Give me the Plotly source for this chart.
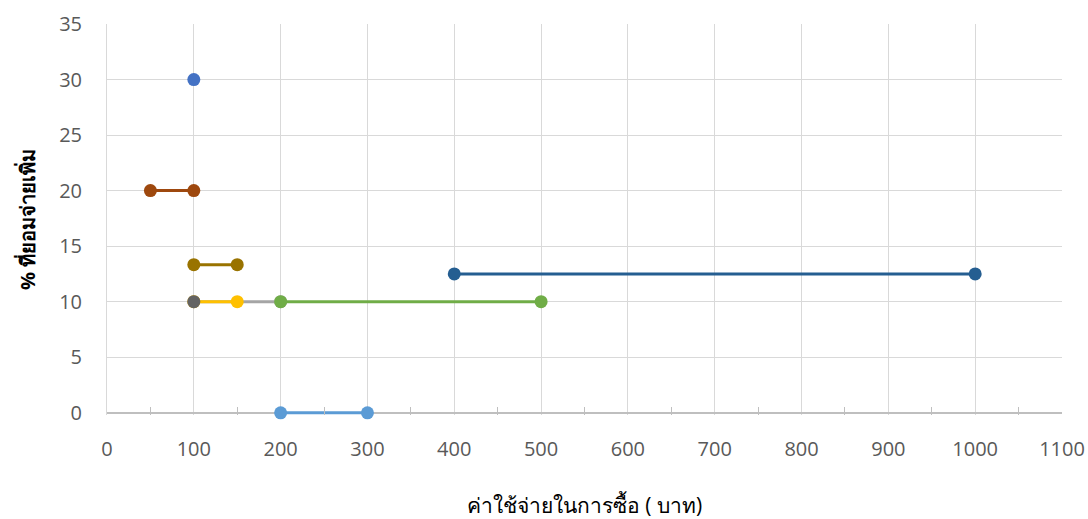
import plotly.graph_objects as go

# Data segments (x = cost in baht, y = % willing to pay extra)
gray_x = [100, 200]; gray_y = [10, 10]
yellow_x = [100, 150]; yellow_y = [10, 10]
lightblue_x = [200, 300]; lightblue_y = [0, 0]
green_x = [200, 500]; green_y = [10, 10]
blue_x = [100]; blue_y = [30]
darkorange_x = [50, 100]; darkorange_y = [20, 20]
darkgray_x = [100]; darkgray_y = [10]
darkgold_x = [100, 150]; darkgold_y = [13.33, 13.33]
steel_x = [400, 1000]; steel_y = [12.5, 12.5]

x_ticks = list(range(0, 1101, 100))
y_ticks = list(range(0, 36, 5))

series = [
    (gray_x, gray_y, "#A5A5A5"),
    (yellow_x, yellow_y, "#FFC000"),
    (lightblue_x, lightblue_y, "#5B9BD5"),
    (green_x, green_y, "#70AD47"),
    (blue_x, blue_y, "#4472C4"),
    (darkorange_x, darkorange_y, "#9E480E"),
    (darkgray_x, darkgray_y, "#636363"),
    (darkgold_x, darkgold_y, "#997300"),
    (steel_x, steel_y, "#255E91"),
]

fig = go.Figure()
for xs, ys, c in series:
    fig.add_trace(go.Scatter(x=xs, y=ys, mode="lines+markers",
                             line=dict(color=c, width=3),
                             marker=dict(color=c, size=13),
                             cliponaxis=False,
                             showlegend=False, hoverinfo="x+y"))

fig.update_layout(
    width=1088, height=519,
    margin=dict(l=107, r=26, t=24, b=104, autoexpand=False),
    plot_bgcolor="white", paper_bgcolor="white",
    font=dict(family="Open Sans, Noto Sans, sans-serif", color="#595959", size=20),
)
fig.update_xaxes(range=[0, 1100], tickvals=x_ticks, showgrid=True, gridcolor="#D9D9D9",
                 gridwidth=1, zeroline=False, showline=False,
                 ticks="", ticklabelstandoff=20, automargin=False,
                 minor=dict(tickvals=list(range(50, 1100, 100)), ticks="inside", ticklen=8,
                            tickcolor="#BFBFBF", showgrid=False),
                 title=dict(text="ค่าใช้จ่ายในการซื้อ ( บาท)", font=dict(size=21, color="#000000"),
                            standoff=43))
fig.update_yaxes(range=[-0.2, 35], tickvals=y_ticks, showgrid=True, gridcolor="#D9D9D9",
                 gridwidth=1, zeroline=True, zerolinecolor="#BFBFBF", zerolinewidth=1.5,
                 showline=True, linecolor="#D9D9D9", linewidth=1,
                 ticks="", ticklabelstandoff=20, automargin=False,
                 title=dict(text="<b>% ที่ยอมจ่ายเพิ่ม</b>", font=dict(size=20, color="#000000"),
                            standoff=18))

fig.write_html("out.html", config={"displayModeBar": False},
               post_script="document.body.style.margin='0';document.body.style.overflow='hidden';")
